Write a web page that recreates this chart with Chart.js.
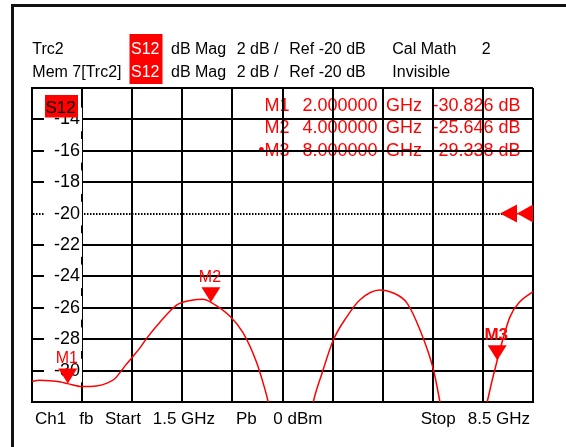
<!DOCTYPE html>
<html>
<head>
<meta charset="utf-8">
<script src="https://cdn.jsdelivr.net/npm/chart.js@4.4.1/dist/chart.umd.min.js"></script>
<style>
html,body{margin:0;padding:0;background:#fff;}
canvas{display:block;}
</style>
</head>
<body>
<canvas id="c" width="566" height="447"></canvas>
<script>
// ---- data ----
const freqGHz = [1.5, 1.6, 1.75, 1.9, 2.0, 2.2, 2.4, 2.55, 2.66, 2.8, 2.91, 3.0, 3.11, 3.29, 3.53, 3.75, 3.89, 4.0, 4.27, 4.45, 4.64, 4.73, 4.80, 5.1, 5.43, 5.55, 5.71, 5.90, 6.08, 6.36, 6.54, 6.74, 6.92, 7.11, 7.20, 7.52, 7.86, 8.0, 8.18, 8.32, 8.5];
const s12dB   = [-30.70, -30.62, -30.64, -30.72, -30.83, -31.02, -30.98, -30.80, -30.50, -29.70, -29.10, -28.60, -27.90, -26.90, -25.80, -25.50, -25.46, -25.65, -26.56, -27.60, -29.50, -30.80, -32.00, -40.0, -32.00, -30.20, -28.05, -26.56, -25.50, -24.87, -25.04, -25.70, -27.40, -29.96, -32.00, -40.0, -32.00, -29.34, -26.56, -25.60, -24.97];

const xTickValues = [1.5, 2.2, 2.9, 3.6, 4.3, 5.0, 5.7, 6.4, 7.1, 7.8, 8.5];
const yTickValues = [-32, -30, -28, -26, -24, -22, -20, -18, -16, -14, -12];
const yTickLabels = ['', '-30', '-28', '-26', '-24', '-22', '-20', '-18', '-16', '-14', ''];
const refLevel = -20;

const markerNames     = ['M1', 'M2', 'M3'];
const markerFreqGHz   = [2.0, 4.0, 8.0];
const markerdB        = [-30.826, -25.646, -29.338];
const markerFreqText  = ['2.000000', '4.000000', '8.000000'];
const markerValueText = ['-30.826 dB', '-25.646 dB', '-29.338 dB'];
const activeMarker = 2;

const headerRow1 = ['Trc2', 'S12', 'dB Mag', '2 dB /', 'Ref -20 dB', 'Cal Math', '2'];
const headerRow2 = ['Mem 7[Trc2]', 'S12', 'dB Mag', '2 dB /', 'Ref -20 dB', 'Invisible'];
const footerTexts = ['Ch1', 'fb', 'Start', '1.5 GHz', 'Pb', '0 dBm', 'Stop', '8.5 GHz'];
const traceLabel = 'S12';

const FONT = '"Liberation Sans", Arial, sans-serif';
const RED = '#ff0000';

const overlay = {
  id: 'overlay',
  beforeDraw(chart) {
    const ctx = chart.ctx;
    ctx.save();
    ctx.fillStyle = '#fff';
    ctx.fillRect(0, 0, chart.width, chart.height);
    // outer frame
    ctx.fillStyle = '#111';
    ctx.fillRect(11, 4, chart.width - 11, 3);
    ctx.fillRect(11, 4, 3, chart.height - 4);
    // header red boxes
    ctx.fillStyle = RED;
    ctx.fillRect(129.5, 34, 33, 50);
    // header text
    const hx1 = [32.3, 131, 171, 236.7, 289.3, 392.3, 481.7];
    const hx2 = [32.3, 131, 171, 236.7, 289.3, 392.3];
    ctx.font = '16px ' + FONT;
    ctx.textBaseline = 'alphabetic';
    ctx.textAlign = 'left';
    headerRow1.forEach((t, i) => { ctx.fillStyle = i === 1 ? '#fff' : '#000'; ctx.fillText(t, hx1[i], 54.3); });
    headerRow2.forEach((t, i) => { ctx.fillStyle = i === 1 ? '#fff' : '#000'; ctx.fillText(t, hx2[i], 77.3); });
    // marker table (under the grid)
    ctx.font = '18px ' + FONT;
    ctx.fillStyle = RED;
    markerNames.forEach((m, i) => {
      const yb = 110.5 + i * 22.7;
      ctx.textAlign = 'right';
      ctx.fillText((i === activeMarker ? '\u2022' : '') + m, 289.5, yb);
      ctx.textAlign = 'left';
      ctx.fillText(markerFreqText[i], 302.5, yb);
      ctx.fillText('GHz', 386, yb);
      ctx.fillText(markerValueText[i], 432.5, yb);
    });
    ctx.restore();
  },
  afterDraw(chart) {
    const ctx = chart.ctx;
    const xs = chart.scales.x, ys = chart.scales.y;
    const area = chart.chartArea;
    ctx.save();
    // trace label box
    ctx.fillStyle = RED;
    ctx.fillRect(45, 95, 33, 22.5);
    ctx.fillStyle = '#000';
    ctx.font = '17px ' + FONT;
    ctx.textAlign = 'left';
    ctx.textBaseline = 'alphabetic';
    ctx.fillText(traceLabel, 45.5, 113.3);
    // markers
    markerNames.forEach((m, i) => {
      const px = xs.getPixelForValue(markerFreqGHz[i]);
      const py = ys.getPixelForValue(markerdB[i]);
      ctx.fillStyle = RED;
      ctx.beginPath();
      ctx.moveTo(px, py);
      ctx.lineTo(px - 9.5, py - 15);
      ctx.lineTo(px + 9.5, py - 15);
      ctx.closePath();
      ctx.fill();
      ctx.font = (i === activeMarker ? 'bold 17px ' : '16px ') + FONT;
      ctx.textAlign = 'center';
      ctx.fillText(m, px - 1, py - 20.5);
    });
    // reference level arrows
    const ry = ys.getPixelForValue(refLevel);
    const r = area.right;
    ctx.fillStyle = RED;
    [[r - 33, r - 16], [r - 16, r]].forEach(([tip, base]) => {
      ctx.beginPath();
      ctx.moveTo(tip, ry);
      ctx.lineTo(base, ry - 9);
      ctx.lineTo(base, ry + 9);
      ctx.closePath();
      ctx.fill();
    });
    // footer
    const fx = [35, 79.3, 105, 152.7, 236, 273.3, 420.7, 467.7];
    ctx.fillStyle = '#000';
    ctx.font = '17px ' + FONT;
    ctx.textAlign = 'left';
    footerTexts.forEach((t, i) => ctx.fillText(t, fx[i], 424.3));
    ctx.restore();
  }
};

new Chart(document.getElementById('c'), {
  type: 'line',
  data: {
    datasets: [{
      data: freqGHz.map((f, i) => ({ x: f, y: s12dB[i] })),
      borderColor: RED,
      borderWidth: 1.5,
      pointRadius: 0,
      fill: false,
      cubicInterpolationMode: 'monotone'
    }]
  },
  options: {
    responsive: false,
    animation: false,
    events: [],
    layout: { padding: { left: 32, top: 88, right: 33, bottom: 45 } },
    plugins: { legend: { display: false }, tooltip: { enabled: false } },
    scales: {
      x: {
        type: 'linear',
        min: 1.5, max: 8.5,
        afterBuildTicks: s => { s.ticks = xTickValues.map(v => ({ value: v })); },
        afterFit: s => { s.height = 0; },
        ticks: { display: false },
        grid: { color: '#000', lineWidth: 2, drawTicks: false },
        border: { display: true, color: '#000', width: 2 }
      },
      y: {
        type: 'linear',
        min: -32, max: -12,
        afterBuildTicks: s => { s.ticks = yTickValues.map(v => ({ value: v })); },
        afterFit: s => { s.width = 0; },
        ticks: {
          mirror: true,
          crossAlign: 'far',
          padding: 22,
          color: '#000',
          font: { family: FONT, size: 18 },
          callback: (v, i) => yTickLabels[i],
          showLabelBackdrop: true,
          backdropColor: c => (c.tick && yTickLabels[c.index] === '') ? 'rgba(0,0,0,0)' : '#fff',
          backdropPadding: { top: 1, bottom: 1, left: 10, right: 2 }
        },
        grid: {
          color: '#000',
          lineWidth: c => (c.tick && c.tick.value === refLevel) ? 2 : 2,
          drawTicks: false
        },
        border: {
          display: true, color: '#000', width: 2,
          dash: c => (c.tick && c.tick.value === refLevel) ? [1.5, 1.5] : []
        }
      }
    }
  },
  plugins: [overlay]
});
</script>
</body>
</html>
